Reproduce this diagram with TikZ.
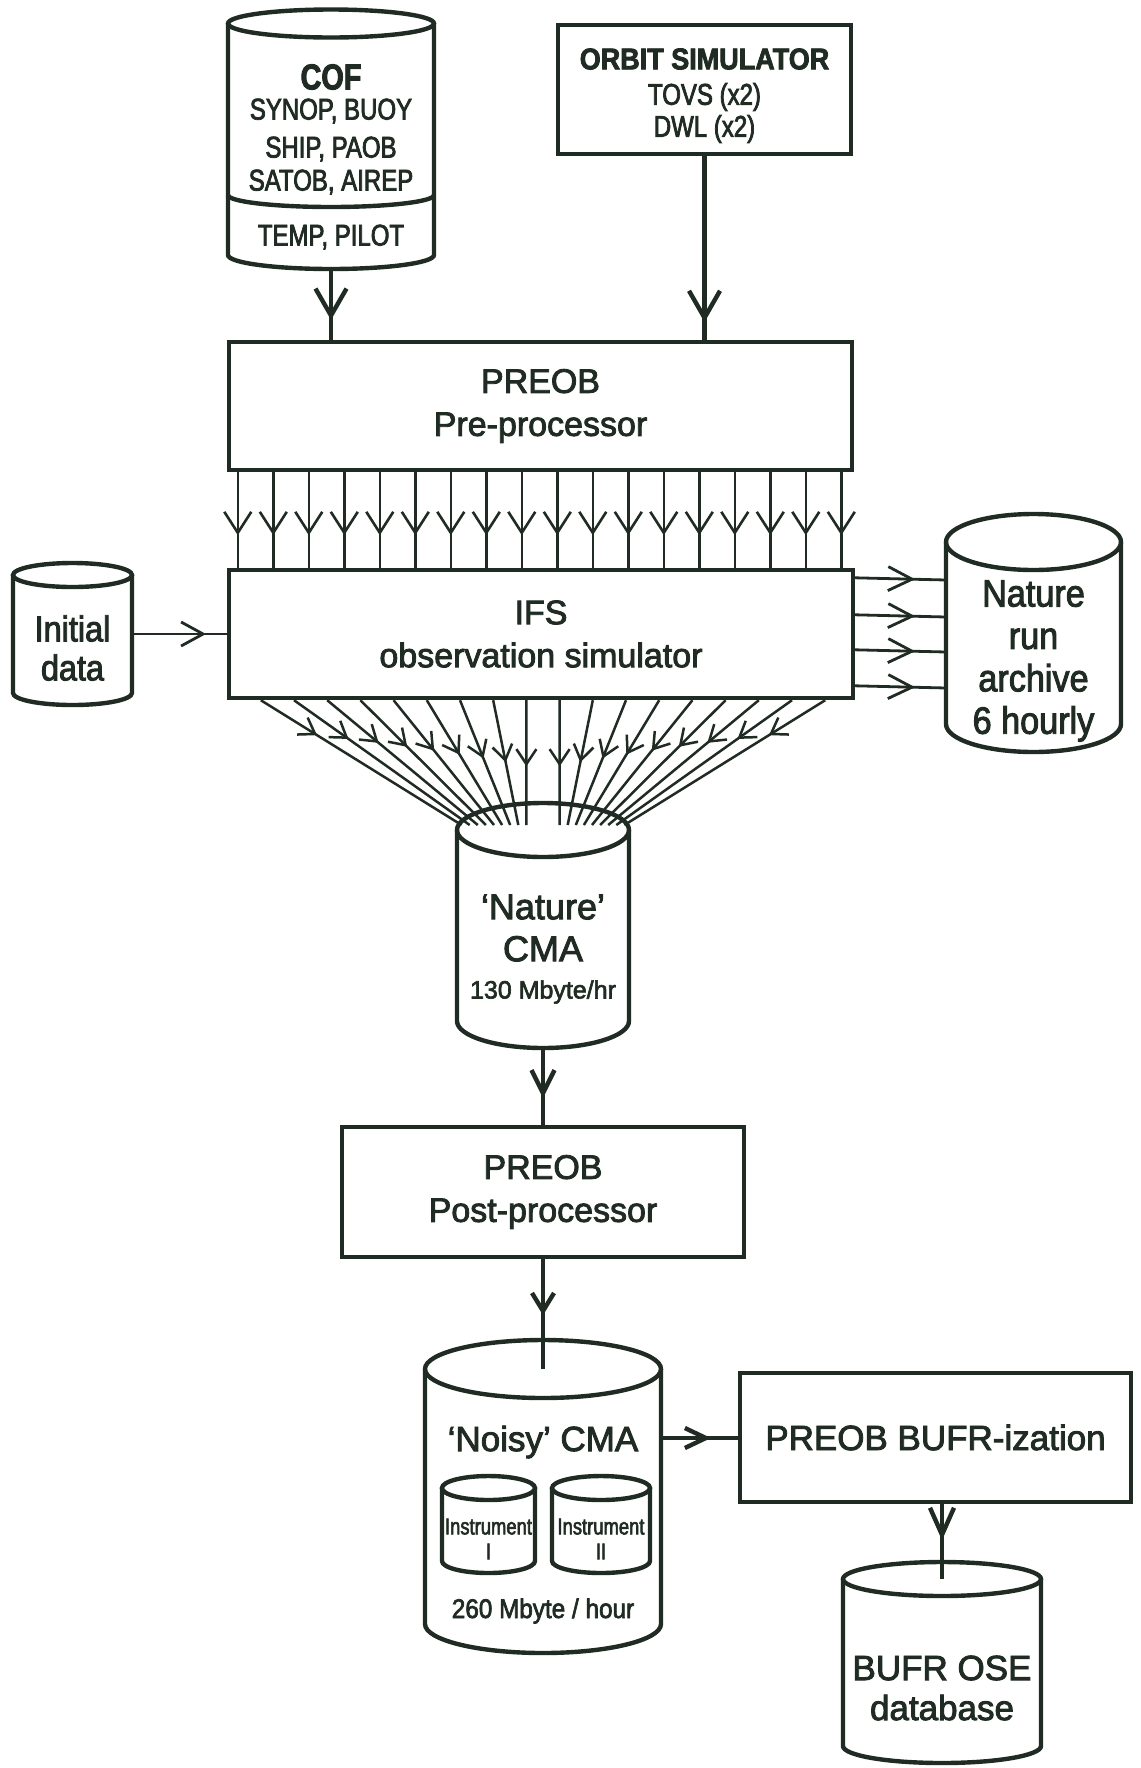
\documentclass[tikz,border=0pt]{standalone}
\usepackage{fontspec}
\setmainfont{Liberation Sans}[FakeBold=2.5]
\newfontfamily\narrowA{Liberation Sans}[FakeStretch=0.8,FakeBold=2.5]
\newfontfamily\narrowB{Liberation Sans}[FakeStretch=0.9,FakeBold=2.5]
\usetikzlibrary{arrows.meta,decorations.markings,calc}
\definecolor{ink}{RGB}{32,44,35}
\newcommand\fsz[2]{\fontsize{#1}{#2}\selectfont}
% cx, top-centre y, bottom-centre y, rx, ry
\newcommand\drawcyl[5]{%
  \draw[thickln] (#1-#4,#2) -- (#1-#4,#3) arc[start angle=180,end angle=0,x radius=#4,y radius=#5] -- (#1+#4,#2);
  \draw[thickln] (#1,#2) ellipse[x radius=#4,y radius=#5];
}
\begin{document}
\begin{tikzpicture}[x=0.5pt,y=-0.5pt,
  thickln/.style={draw=ink,line width=2.2pt},
  thinln/.style={draw=ink,line width=1.3pt},
  box/.style={draw=ink,line width=2.2pt,inner sep=0pt,align=center,text=ink,font=\fsz{17}{21.5}},
  lbl/.style={text=ink,inner sep=0pt,align=center},
  arrowat/.style n args={3}{postaction={decorate},decoration={markings,mark=at position #1 with {\arrow{Straight Barb[length=#2,width=#3]}}}},
]
\fill[white] (0,0) rectangle (1141,1768);
\useasboundingbox (0,0) rectangle (1141,1768);

% ---------- COF cylinder ----------
\drawcyl{331}{23.5}{255}{103}{14}
\draw[thickln] (228,195) arc[start angle=180,end angle=0,x radius=103,y radius=12];
\coordinate (cofbot) at (331,269);
\node[lbl,font=\narrowA\bfseries\fsz{18}{20}] (cof1) at (331,77) {COF};
\node[lbl,font=\narrowA\fsz{15}{17}] (cof2) at (331,111) {SYNOP, BUOY};
\node[lbl,font=\narrowA\fsz{15}{17}] (cof3) at (331,149) {SHIP, PAOB};
\node[lbl,font=\narrowA\fsz{15}{17}] (cof4) at (331,182) {SATOB, AIREP};
\node[lbl,font=\narrowA\fsz{15}{17}] (cof5) at (331,237) {TEMP, PILOT};

% ---------- Orbit simulator ----------
\node[box,minimum width=146.5pt,minimum height=64.5pt] (orbit) at (704.5,89.5) {};
\node[lbl,font=\narrowB\bfseries\fsz{15}{17}] (orb1) at (704.5,59) {ORBIT SIMULATOR};
\node[lbl,font=\narrowA\fsz{15}{17}] (orb2) at (704.5,97) {TOVS (x2)};
\node[lbl,font=\narrowA\fsz{15}{17}] (orb3) at (704.5,129) {DWL (x2)};

% ---------- PREOB pre-processor ----------
\node[box,minimum width=311.5pt,minimum height=64pt] (preob) at (540.5,406) {PREOB\\Pre-processor};

% ---------- IFS ----------
\node[box,minimum width=312pt,minimum height=64pt] (ifs) at (541,634) {IFS\\observation simulator};

% ---------- Initial data ----------
\drawcyl{72.5}{575}{693}{59.5}{12}
\coordinate (initR) at (132,634);
\node[lbl,font=\narrowB\fsz{18}{19.5}] (inittxt) at (72.5,648) {Initial\\data};

% ---------- Nature run archive ----------
\drawcyl{1033.5}{542}{724}{87.5}{28}
\coordinate (natarchL) at (946,570);
\node[lbl,font=\narrowB\fsz{19}{21.2}] (nattxt) at (1033.5,661) {Nature\\run\\archive\\6 hourly};

% ---------- Nature CMA ----------
\drawcyl{543}{830}{1021}{86}{27}
\coordinate (ncmatop) at (543,830);
\coordinate (ncmabot) at (543,1048);
\node[lbl,font=\fsz{18}{21}] (ncmatxt) at (543,928) {‘Nature’\\CMA};
\node[lbl,font=\fsz{12.5}{14}] (ncmarate) at (543,992) {130 Mbyte/hr};

% ---------- PREOB post-processor ----------
\node[box,minimum width=201pt,minimum height=65pt] (post) at (543,1192) {PREOB\\Post-processor};

% ---------- Noisy CMA ----------
\drawcyl{543}{1369}{1624}{118}{29}
\coordinate (noisytop) at (543,1369);
\coordinate (noisyR) at (661,1438);
\node[lbl,font=\fsz{17.5}{20}] (noisytxt) at (543,1442) {‘Noisy’ CMA};
\drawcyl{488.5}{1488}{1561}{46.5}{12}
\drawcyl{601}{1488}{1561}{49}{12}
\node[lbl,font=\narrowA\fsz{11.5}{12.5}] (ins1) at (488.5,1539) {Instrument\\I};
\node[lbl,font=\narrowA\fsz{11.5}{12.5}] (ins2) at (601,1539) {Instrument\\II};
\node[lbl,font=\narrowB\fsz{13.5}{15}] (noisyrate) at (543,1611) {260 Mbyte / hour};

% ---------- BUFR-ization ----------
\node[box,font=\fsz{17.5}{21},minimum width=195.5pt,minimum height=64.5pt] (bufr) at (935.5,1437.5) {PREOB BUFR-ization};

% ---------- BUFR OSE database ----------
\drawcyl{942}{1579}{1746}{99}{17}
\coordinate (osetop) at (942,1579);
\node[lbl,font=\fsz{17.5}{20}] (osetxt) at (942,1688) {BUFR OSE\\database};

% ---------- connectors ----------
\draw[thickln,arrowat={25.5pt}{13.5pt}{15.5pt}] (cofbot) -- (cofbot |- preob.north);
\draw[thickln,arrowat={83pt}{13.5pt}{15.5pt}] (orbit.south) -- (orbit.south |- preob.north);

\foreach \i in {0,...,17}{
  \draw[thinln,arrowat={31.5pt}{10.5pt}{13.5pt}]
    ($(preob.south west)+({11+35.5*\i},0)$) -- ($(ifs.north west)+({11+35.5*\i},0)$);
}

\draw[thinln,line width=1.4pt,arrowat={37pt}{11pt}{12pt}] (initR) -- (initR -| ifs.west);

\foreach \dy in {10,47,82,118}{
  \draw[thinln,line width=1.4pt,arrowat={30pt}{12pt}{12pt}]
    ($(ifs.north east)+(0,\dy)$) -- ($(natarchL)+(0,\dy)$);
}

\foreach \i in {0,...,17}{
  \pgfmathsetmacro\off{(\i-8.5)*33.2}
  \pgfmathsetmacro\ex{\off/abs(\off)*(16.6+0.244*(abs(\off)-16.6))}
  \pgfmathsetmacro\tpos{0.53-(abs(\i-8.5)-0.5)/8*0.25}
  \draw[thinln,line width=1.25pt,arrowat={\tpos}{7.5pt}{10pt}]
    ($(ifs.south)+(\off+2,0)$) -- ($(ncmatop)+(\ex,-5)$);
}

\draw[thickln,arrowat={25pt}{11.5pt}{11.5pt}] (ncmabot) -- (ncmabot |- post.north);
\draw[thickln,arrowat={28pt}{9pt}{11pt}] (post.south) -- (noisytop);
\draw[thickln,arrowat={25pt}{10.5pt}{10pt}] (noisyR) -- (noisyR -| bufr.west);
\draw[thickln,arrowat={18pt}{13.5pt}{12pt}] (osetop |- bufr.south) -- (osetop);
\end{tikzpicture}
\end{document}
